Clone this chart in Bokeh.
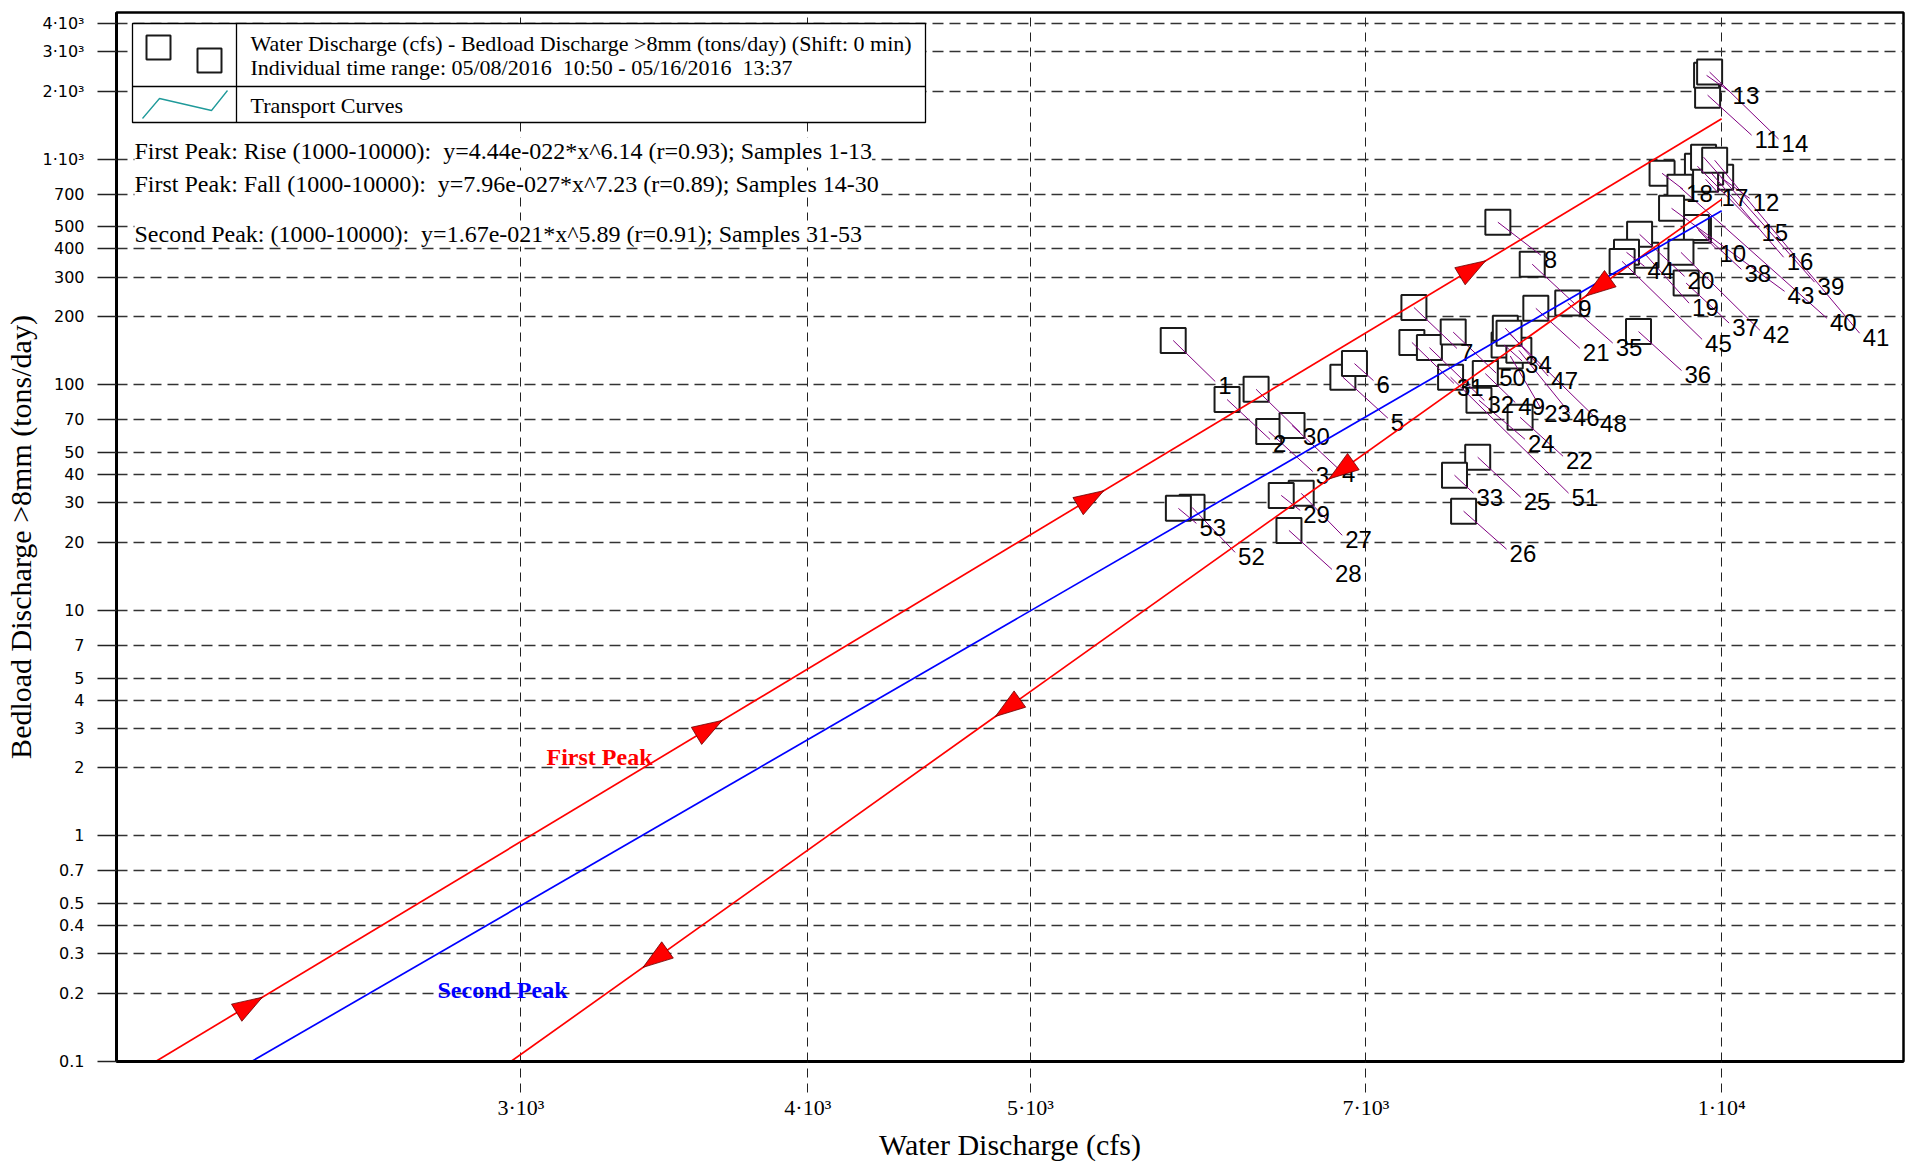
import numpy as np
from math import log10, hypot
from bokeh.plotting import figure
from bokeh.models import Range1d, FixedTicker, Label
from bokeh.core.properties import value
from bokeh.embed import file_html
from bokeh.resources import INLINE

# ---------------- data ----------------
sample_id = list(range(1, 54))
water_q = [5770, 6090, 6350, 6500, 6840, 6920, 7345, 7990, 8270, 9770,
           9860, 9990, 9850, 9880, 9760, 9890, 9840, 9420, 9270, 9210,
           8300, 8170, 8090, 7840, 7830, 7720, 6560, 6480, 6430, 6270,
           7330, 7460, 7650, 8040, 8570, 9200, 9650, 9750, 9820, 9590,
           9930, 9600, 9510, 9090, 9050, 8160, 8050, 8080, 7890, 7640,
           7620, 5880, 5800]
bedload = [157, 86, 62, 66, 108, 124, 220, 525, 342, 484,
           1920, 830, 2350, 2430, 930, 874, 814, 865, 375, 464,
           218, 71.7, 134, 85.3, 47.7, 27.5, 33.0, 22.6, 32.3, 95.4,
           154, 146, 39.7, 150, 230, 172, 282, 498, 1020, 750,
           988, 386, 605, 386, 352, 142, 178, 169, 112, 171,
           108, 28.6, 28.3]

# transport curves (end points)
rise_q = [2080, 10000]
rise_bl = [0.1, 1510]
fall_q = [2970, 10000]
fall_bl = [0.1, 663]
second_q = [2290, 10000]
second_bl = [0.1, 590]
rise_arrow_q = [2315, 3671, 5382, 7893]
fall_arrow_q = [3391, 4828, 6745, 8727]

x_ticks = [3000, 4000, 5000, 7000, 10000]
x_tick_labels = ["3·10³", "4·10³", "5·10³", "7·10³", "1·10⁴"]
y_ticks = [0.1, 0.2, 0.3, 0.4, 0.5, 0.7, 1, 2, 3, 4, 5, 7, 10, 20, 30, 40, 50, 70,
           100, 200, 300, 400, 500, 700, 1000, 2000, 3000, 4000]
y_tick_labels = ["0.1", "0.2", "0.3", "0.4", "0.5", "0.7", "1", "2", "3", "4", "5", "7",
                 "10", "20", "30", "40", "50", "70", "100", "200", "300", "400", "500",
                 "700", "1·10³", "2·10³", "3·10³", "4·10³"]

NB = "\u00a0"
eq_texts = [
    "First Peak: Rise (1000-10000):" + NB + " y=4.44e-022*x^6.14 (r=0.93); Samples 1-13",
    "First Peak: Fall (1000-10000):" + NB + " y=7.96e-027*x^7.23 (r=0.89); Samples 14-30",
    "Second Peak: (1000-10000):" + NB + " y=1.67e-021*x^5.89 (r=0.91); Samples 31-53",
]
legend_texts = [
    "Water Discharge (cfs) - Bedload Discharge >8mm (tons/day) (Shift: 0 min)",
    "Individual time range: 05/08/2016" + NB + " 10:50 - 05/16/2016" + NB + " 13:37",
    "Transport Curves",
]

# ---------------- layout (label offsets in px, layout constants) ----------------
label_off = [(44, 45), (45, 44), (46, 44), (49, 48), (47, 45), (21, 21), (45, 45), (45, 37), (45, 44), (20, 23),
             (46, 44), (31, 25), (25, 20), (71, 71), (63, 66), (75, 89), (15, 18), (23, 20), (45, 52), (47, 46),
             (46, 44), (45, 43), (33, 57), (48, 43), (45, 44), (45, 42), (43, 46), (45, 43), (21, 19), (46, 47),
             (44, 45), (57, 57), (21, 22), (20, 20), (47, 44), (45, 43), (45, 44), (47, 46), (113, 129), (149, 135),
             (147, 177), (81, 82), (115, 87), (20, 18), (82, 82), (53, 67), (45, 52), (90, 90), (32, 33), (45, 45),
             (120, 120), (45, 49), (20, 19)]

FL, FT, FW, FH = 116, 12, 1787, 1049      # frame in page pixels
X0, X1 = 2000.0, 12000.0
Y0, Y1 = 0.1, 4464.0
LXS = log10(X1) - log10(X0)
LYS = log10(Y1) - log10(Y0)


def d2p(x, y):
    return (FL + (log10(x) - log10(X0)) / LXS * FW,
            FT + (log10(Y1) - log10(y)) / LYS * FH)


def p2d(px, py):
    return (10 ** (log10(X0) + (px - FL) / FW * LXS),
            10 ** (log10(Y1) - (py - FT) / FH * LYS))


def on_line(qs, bs, q):
    s = (log10(bs[1]) - log10(bs[0])) / (log10(qs[1]) - log10(qs[0]))
    return 10 ** (log10(bs[0]) + s * (log10(q) - log10(qs[0])))


p = figure(x_axis_type="log", y_axis_type="log",
           x_range=Range1d(X0, X1), y_range=Range1d(Y0, Y1),
           frame_width=FW, frame_height=FH,
           min_border_left=FL, min_border_right=3, min_border_top=FT, min_border_bottom=100,
           output_backend="svg", toolbar_location=None)
p.background_fill_color = "white"
p.border_fill_color = "white"
p.outline_line_color = "black"
p.outline_line_width = 2.5

# axes
p.xaxis.ticker = FixedTicker(ticks=x_ticks, minor_ticks=[])
p.xaxis.major_label_overrides = dict(zip(x_ticks, x_tick_labels))
p.yaxis.ticker = FixedTicker(ticks=y_ticks, minor_ticks=[])
p.yaxis.major_label_overrides = dict(zip(y_ticks, y_tick_labels))
for ax in (p.xaxis, p.yaxis):
    ax.axis_line_width = 3
    ax.axis_line_color = "black"
    ax.major_tick_in = 0
    ax.minor_tick_line_color = None
    ax.axis_label_text_font = "Liberation Serif"
    ax.axis_label_text_font_style = "normal"
    ax.axis_label_text_font_size = "30px"
    ax.axis_label_text_color = "black"
p.xaxis.axis_label = "Water Discharge (cfs)"
p.yaxis.axis_label = "Bedload Discharge >8mm (tons/day)"
p.xaxis.axis_label_standoff = 5
p.yaxis.axis_label_standoff = 2

p.xaxis.major_tick_out = 31
p.xaxis.major_tick_line_dash = "9 6"
p.xaxis.major_tick_line_color = "#222222"
p.xaxis.major_tick_line_width = 1
p.xaxis.major_label_standoff = 2
p.xaxis.major_label_text_font = "Liberation Serif"
p.xaxis.major_label_text_font_size = "22px"
p.xaxis.major_label_text_color = "black"
p.yaxis.major_tick_out = 19
p.yaxis.major_tick_line_width = 1.5
p.yaxis.major_tick_line_color = "#222222"
p.yaxis.major_label_standoff = 13
p.yaxis.major_label_text_font = "DejaVu Sans"
p.yaxis.major_label_text_font_size = "16px"
p.yaxis.major_label_text_color = "black"

p.xgrid.grid_line_color = "#222222"
p.xgrid.grid_line_dash = "9 6"
p.xgrid.grid_line_width = 1
p.ygrid.grid_line_color = "#333333"
p.ygrid.grid_line_dash = "11 6"
p.ygrid.grid_line_width = 1.6

# samples
p.scatter(water_q, bedload, marker="square", size=25, fill_color="white",
          line_color="#1a1a1a", line_width=2)

# leader lines and labels
PXD = FW / LXS
PYD = FH / LYS
lx0, ly0, lx1, ly1, tx, ty = [], [], [], [], [], []
for q, b, (dx, dy) in zip(water_q, bedload, label_off):
    lx0.append(q)
    ly0.append(b)
    lx1.append(q * 10 ** ((dx - 2) / PXD))
    ly1.append(b * 10 ** (-(dy - 4) / PYD))
    tx.append(q * 10 ** ((dx + 1) / PXD))
    ty.append(b * 10 ** (-dy / PYD))
p.segment(lx0, ly0, lx1, ly1, line_color="#800080", line_width=1)
p.text(tx, ty, text=[str(s) for s in sample_id], text_font=value("Liberation Sans"),
       text_font_size="24px", text_align="left", text_baseline="middle", text_color="black")

# transport curves
p.line(rise_q, rise_bl, line_color="#ff0000", line_width=1.7)
p.line(fall_q, fall_bl, line_color="#ff0000", line_width=1.7)
p.line(second_q, second_bl, line_color="#0000ff", line_width=1.7)

# arrow heads
ahx, ahy = [], []
L, W = 30, 10
for qs, bs, tips, forward in ((rise_q, rise_bl, rise_arrow_q, True),
                              (fall_q, fall_bl, fall_arrow_q, False)):
    for q in tips:
        tpx, tpy = d2p(q, on_line(qs, bs, q))
        q2 = q * 1.05 if forward else q / 1.05
        opx, opy = d2p(q2, on_line(qs, bs, q2))
        dx, dy = opx - tpx, opy - tpy
        n = hypot(dx, dy)
        ux, uy = dx / n, dy / n
        bx, by = tpx - L * ux, tpy - L * uy
        nx, ny = -uy, ux
        pts = [(tpx, tpy), (bx + W * nx, by + W * ny), (bx - W * nx, by - W * ny)]
        dd = [p2d(a, c) for a, c in pts]
        ahx.append([d[0] for d in dd])
        ahy.append([d[1] for d in dd])
p.patches(ahx, ahy, fill_color="#ff0000", line_color="#6a0000", line_width=0.8)

# curve names
p.add_layout(Label(x=p2d(546, 756)[0], y=p2d(546, 756)[1], text="First Peak",
                   text_font="Liberation Serif", text_font_style="bold", text_font_size="24px",
                   text_color="#ff0000", text_align="left", text_baseline="middle"))
p.add_layout(Label(x=p2d(437, 989)[0], y=p2d(437, 989)[1], text="Second Peak",
                   text_font="Liberation Serif", text_font_style="bold", text_font_size="24px",
                   text_color="#0000ff", text_align="left", text_baseline="middle"))

# equation texts
for t, yy in zip(eq_texts, [150, 183, 233]):
    xd, yd = p2d(134, yy)
    p.add_layout(Label(x=xd, y=yd, text=t, text_font="Liberation Serif", text_font_size="24px",
                       text_color="black", text_align="left", text_baseline="middle",
                       background_fill_color="white", background_fill_alpha=1.0))

# legend box
bl, bt = p2d(132, 23)
br, bb = p2d(925, 122)
p.quad(left=[bl], right=[br], top=[bt], bottom=[bb], fill_color="white",
       line_color="black", line_width=1.3)
vx, _ = p2d(236, 0)
_, hy = p2d(0, 86)
p.segment([vx, bl], [bt, hy], [vx, br], [bb, hy], line_color="black", line_width=1.3)
sq = [p2d(158, 47), p2d(209, 60)]
p.scatter([s[0] for s in sq], [s[1] for s in sq], marker="square", size=24,
          fill_color="white", line_color="#1a1a1a", line_width=2)
tl = [p2d(142, 118), p2d(159, 98), p2d(211, 110), p2d(227, 90)]
p.line([t[0] for t in tl], [t[1] for t in tl], line_color="#1f9a9a", line_width=1.3)
for t, yy in zip(legend_texts, [43, 67, 105]):
    xd, yd = p2d(250, yy)
    p.add_layout(Label(x=xd, y=yd, text=t, text_font="Liberation Serif", text_font_size="22px",
                       text_color="black", text_align="left", text_baseline="middle"))

open("out.html", "w").write(file_html(p, INLINE))
